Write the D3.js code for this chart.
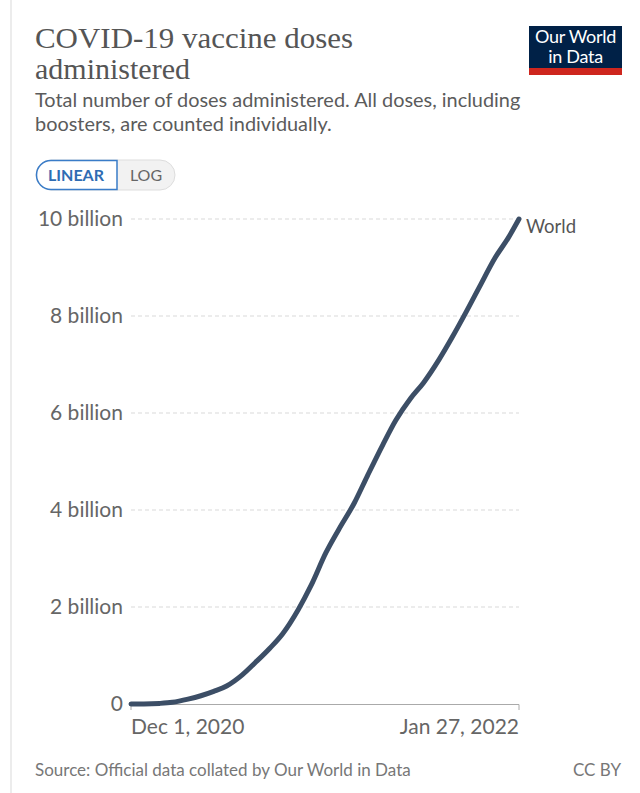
<!DOCTYPE html>
<html><head><meta charset="utf-8">
<script src="https://cdn.jsdelivr.net/npm/d3@7/dist/d3.min.js"></script>
<style>
body{margin:0;background:#fff;}
svg{display:block;}
</style></head>
<body>
<script>
const dates = ["2020-12-01","2020-12-15","2021-01-01","2021-01-15","2021-02-01","2021-02-15","2021-03-01","2021-03-15","2021-04-01","2021-04-15","2021-05-01","2021-05-15","2021-06-01","2021-06-15","2021-07-01","2021-07-15","2021-08-01","2021-08-15","2021-09-01","2021-09-15","2021-10-01","2021-10-15","2021-11-01","2021-11-15","2021-12-01","2021-12-15","2022-01-01","2022-01-15","2022-01-27"];
const doses = [0,0.001,0.012,0.035,0.1,0.17,0.26,0.37,0.6,0.85,1.15,1.45,1.95,2.45,3.12,3.6,4.15,4.7,5.35,5.85,6.3,6.62,7.1,7.55,8.1,8.6,9.2,9.6,10.0];
const yTicks = [0,2,4,6,8,10];
const yTickLabels = ["0","2 billion","4 billion","6 billion","8 billion","10 billion"];
const xTickDates = ["2020-12-01","2022-01-27"];
const xTickLabels = ["Dec 1, 2020","Jan 27, 2022"];
const seriesName = "World";

const W=640,H=793;
const svg=d3.select("body").append("svg").attr("width",W).attr("height",H);
const parse=d3.utcParse("%Y-%m-%d");
const data=dates.map((d,i)=>({date:parse(d),v:doses[i]}));

// card edge
svg.append("line").attr("x1",11).attr("x2",11).attr("y1",0).attr("y2",H).attr("stroke","#e6e6e6").attr("stroke-width",1.5);

// title
const title=svg.append("text").attr("font-family","'Liberation Serif','DejaVu Serif',serif").attr("font-size",30).attr("fill","#555").attr("textLength",318);
title.append("tspan").attr("x",35).attr("y",48).attr("textLength",318).attr("lengthAdjust","spacingAndGlyphs").text("COVID-19 vaccine doses");
svg.append("text").attr("font-family","'Liberation Serif','DejaVu Serif',serif").attr("font-size",30).attr("fill","#555")
 .attr("x",35).attr("y",79).text("administered");

const sub=svg.append("text").attr("font-family","Lato,sans-serif").attr("font-size",19.9).attr("fill","#5b5b5b");
sub.append("tspan").attr("x",35).attr("y",107).text("Total number of doses administered. All doses, including");
sub.append("tspan").attr("x",35).attr("y",131).text("boosters, are counted individually.");

// logo
svg.append("rect").attr("x",529).attr("y",26).attr("width",93).attr("height",49).attr("fill","#002147");
svg.append("rect").attr("x",529).attr("y",68).attr("width",93).attr("height",7).attr("fill","#ce261e");
svg.append("text").attr("font-family","Lato,sans-serif").attr("font-size",18).attr("fill","#fff").attr("text-anchor","middle").attr("letter-spacing",-0.3)
 .attr("x",575.5).attr("y",43).text("Our World");
svg.append("text").attr("font-family","Lato,sans-serif").attr("font-size",18).attr("fill","#fff").attr("text-anchor","middle").attr("letter-spacing",-0.3)
 .attr("x",575.5).attr("y",63).text("in Data");

// toggle
svg.append("rect").attr("x",36).attr("y",160).attr("width",139).attr("height",30).attr("rx",15).attr("fill","#f2f2f2").attr("stroke","#ddd");
svg.append("path").attr("d","M51,160.5 H117 V189.5 H51 A14.5,14.5 0 0 1 51,160.5 Z").attr("fill","#fff").attr("stroke","#3a7cc8").attr("stroke-width",1.5);
svg.append("text").attr("x",76).attr("y",181).attr("text-anchor","middle").attr("font-family","Lato,sans-serif").attr("font-size",16).attr("font-weight",700).attr("fill","#2f6cb3").text("LINEAR");
svg.append("text").attr("x",146).attr("y",181).attr("text-anchor","middle").attr("font-family","Lato,sans-serif").attr("font-size",16).attr("fill","#666").text("LOG");

// scales
const x=d3.scaleUtc().domain([parse(dates[0]),parse(dates[dates.length-1])]).range([131,519]);
const y=d3.scaleLinear().domain([0,10]).range([704,219]);

// grid
svg.append("g").selectAll("line").data(yTicks.filter(t=>t>0)).join("line")
 .attr("x1",131).attr("x2",519).attr("y1",d=>y(d)).attr("y2",d=>y(d))
 .attr("stroke","#d9d9d9").attr("stroke-dasharray","4,3");
svg.append("g").selectAll("text").data(yTicks).join("text")
 .attr("x",123).attr("y",d=>y(d)+7).attr("text-anchor","end")
 .attr("font-family","Lato,sans-serif").attr("font-size",21).attr("fill","#666")
 .text((d,i)=>yTickLabels[i]);

// baseline
svg.append("line").attr("x1",131).attr("x2",519).attr("y1",704.5).attr("y2",704.5).attr("stroke","#aaa");
xTickDates.forEach(d=>{
  svg.append("line").attr("x1",x(parse(d))).attr("x2",x(parse(d))).attr("y1",704.5).attr("y2",710).attr("stroke","#aaa");
});
svg.append("g").selectAll("text").data(xTickDates).join("text")
 .attr("x",d=>x(parse(d))).attr("y",734)
 .attr("text-anchor",(d,i)=>i===0?"start":"end")
 .attr("font-family","Lato,sans-serif").attr("font-size",21).attr("fill","#666")
 .text((d,i)=>xTickLabels[i]);

// line
const line=d3.line().x(d=>x(d.date)).y(d=>y(d.v)).curve(d3.curveMonotoneX);
svg.append("path").datum(data).attr("d",line).attr("fill","none")
 .attr("stroke","#3c4e66").attr("stroke-width",5).attr("stroke-linecap","round").attr("stroke-linejoin","round");

const last=data[data.length-1];
svg.append("text").attr("x",x(last.date)+7).attr("y",y(last.v)+14)
 .attr("font-family","Lato,sans-serif").attr("font-size",18.5).attr("fill","#555").text(seriesName);

// footer
svg.append("text").attr("x",35).attr("y",776).attr("font-family","Lato,sans-serif").attr("font-size",17).attr("fill","#777")
 .text("Source: Official data collated by Our World in Data");
svg.append("text").attr("x",621).attr("y",776).attr("text-anchor","end").attr("font-family","Lato,sans-serif").attr("font-size",17).attr("fill","#777")
 .text("CC BY");
</script>
</body></html>
